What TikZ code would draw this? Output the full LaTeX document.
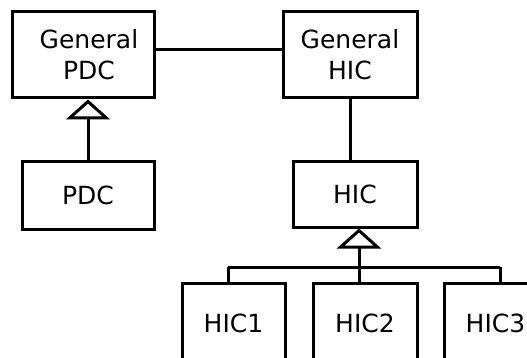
\documentclass[tikz,border=0pt]{standalone}
\usepackage{fontspec}
\setmainfont{DejaVu Sans}
\usetikzlibrary{arrows.meta}

\begin{document}
\begin{tikzpicture}
  [x=1pt,y=-1pt,line width=3pt,
   every node/.style={draw,rectangle,inner sep=0pt,align=center,font=\fontsize{25}{31}\selectfont},
   isa/.style={-{Triangle[open,length=20pt,width=44pt]}}]
  \useasboundingbox (0,0) rectangle (527,358);
  \clip (0,0) rectangle (527,358);
  \node[minimum width=142pt,minimum height=86pt] (gpdc) at (83,55) {\hspace*{12pt}General\\\hspace*{12pt}PDC};
  \node[minimum width=134pt,minimum height=86pt] (ghic) at (350,55) {General\\HIC};
  \node[minimum width=132pt,minimum height=67pt] (pdc) at (88,195.5) {PDC};
  \node[minimum width=124pt,minimum height=65pt] (hic) at (355,194.5) {HIC};
  \node[minimum width=103pt,minimum height=80pt] (hic1) at (233.5,323) {HIC1};
  \node[minimum width=104pt,minimum height=80pt] (hic2) at (365,323) {HIC2};
  \node[minimum width=103pt,minimum height=80pt] (hic3) at (495.5,323) {HIC3};
  \coordinate (j1) at (228,267);
  \coordinate (j2) at (359,267);
  \coordinate (j3) at (500,267);
  \draw ([yshift=5pt]gpdc.east) -- ([yshift=5pt]ghic.west);
  \draw (ghic.south) -- (ghic.south |- hic.north);
  \draw[isa] (pdc.north) -- (pdc.north |- gpdc.south);
  \draw (j1) -- (j3);
  \foreach \kid/\j in {hic1/j1,hic2/j2,hic3/j3}
    \draw (\kid.north -| \j) -- (\j);
  \draw[isa] (j2) -- (hic.south -| j2);
\end{tikzpicture}
\end{document}
